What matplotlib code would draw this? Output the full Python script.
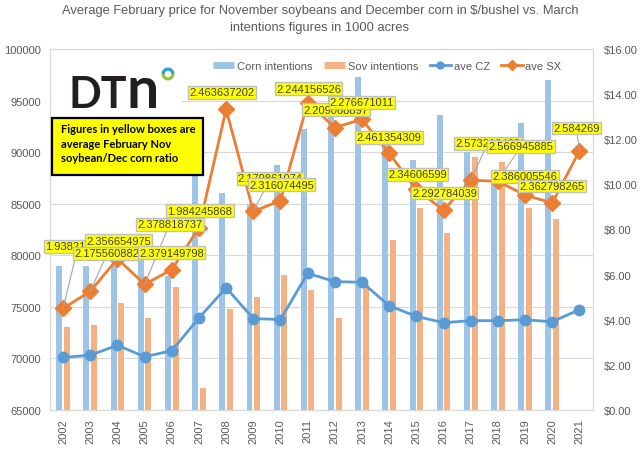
import matplotlib
matplotlib.use("Agg")
import matplotlib.pyplot as plt
import numpy as np
from matplotlib.lines import Line2D
from matplotlib.patches import Rectangle, Wedge
from matplotlib.transforms import IdentityTransform

# data
years = [str(y) for y in range(2002, 2022)]
corn_intentions = [79000, 79000, 79000, 81400, 78000, 90500, 86000, 85000, 88800, 92200,
                   95900, 97300, 91700, 89200, 93600, 90000, 88000, 92800, 97000, np.nan]
soy_intentions = [73000, 73200, 75400, 73900, 76900, 67100, 74800, 76000, 78100, 76600,
                  73900, 77100, 81500, 84600, 82200, 89500, 89000, 84600, 83500, np.nan]
ave_cz = [2.33, 2.43, 2.87, 2.36, 2.63, 4.08, 5.42, 4.05, 4.01, 6.06,
          5.69, 5.66, 4.62, 4.15, 3.87, 3.96, 3.96, 4.00, 3.91, 4.45]
ave_sx = [4.50, 5.26, 6.70, 5.57, 6.22, 8.08, 13.33, 8.80, 9.28, 13.62,
          12.52, 12.88, 11.37, 9.78, 8.86, 10.18, 10.14, 9.52, 9.18, 11.48]
ratio_labels = ["1.938210365", "2.175560882", "2.356654975", "2.378818737", "2.379149798",
                "1.984245868", "2.463637202", "2.179861074", "2.316074495", "2.244156526",
                "2.209068897", "2.276671011", "2.461354309", "2.34606599", "2.292784039",
                "2.573212468", "2.566945885", "2.386005546", "2.362798265", "2.584269"]

# label offsets from the point in pixels (dx right, dy up), and leader-line flags
label_dx = [15, 17, 1, 25, 0, 1, -4, 17, 1, 1, 1, 0, 0, 1, 1, 17, 23, 0, 0, -3]
label_dy = [62, 38, 18, 60, 17, 17, 17, 33, 16, 14, 18, 17, 16, 15, 17, 37, 35, 19, 17, 23]
leader = [1, 1, 0, 1, 0, 0, 0, 1, 0, 0, 0, 0, 0, 0, 0, 1, 1, 0, 0, 1]

CORN_BAR = "#9DC3E6"
SOY_BAR = "#F4B183"
CZ_LINE = "#5B9BD5"
SX_LINE = "#ED7D31"
GRID = "#D9D9D9"
TXT = "#595959"

plt.rcParams['font.family'] = ['Liberation Sans', 'DejaVu Sans']

W, H = 640, 460
fig = plt.figure(figsize=(6.4, 4.6), dpi=100)
l, r, t, b = 49.5, 593, 50, 411
ax = fig.add_axes([l / W, 1 - b / H, (r - l) / W, (b - t) / H])
ax2 = ax.twinx()

x = np.arange(len(years))
ax.bar(x - 0.14, corn_intentions, width=0.22, color=CORN_BAR, zorder=2)
ax.bar(x + 0.14, soy_intentions, width=0.22, color=SOY_BAR, zorder=2)
ax.set_ylim(65000, 100000)
ax.set_yticks(np.arange(65000, 100001, 5000))
ax.set_xlim(-0.5, len(years) - 0.5)
ax.set_xticks(x)
ax.set_xticklabels(years, rotation=90)
ax.grid(axis='y', color=GRID, lw=0.8, zorder=0)
ax.set_axisbelow(True)

ax2.plot(x, ave_cz, color=CZ_LINE, lw=2, marker='o', ms=7.5, zorder=3)
ax2.plot(x, ave_sx, color=SX_LINE, lw=2, marker='D', ms=8, zorder=4)
ax2.set_ylim(0, 16)
ax2.set_yticks(np.arange(0, 16.1, 2))
ax2.set_yticklabels(["$%.2f" % v for v in np.arange(0, 16.1, 2)])

for a in (ax, ax2):
    for s in a.spines.values():
        s.set_color(GRID)
        s.set_linewidth(0.8)
    a.tick_params(length=0, labelsize=8, colors=TXT)
ax.tick_params(axis='y', pad=6)
ax.tick_params(axis='x', pad=6)
ax2.tick_params(axis='y', pad=8)

for i in range(len(years)):
    ap = None
    if leader[i]:
        ap = dict(arrowstyle='-', color='#A6A6A6', lw=0.8, shrinkA=0, shrinkB=0)
    ax2.annotate(ratio_labels[i], (x[i], ave_sx[i]), xytext=(label_dx[i], label_dy[i]),
                 textcoords='offset pixels', ha='center', va='center', fontsize=8,
                 color='#404040', zorder=10 + i, arrowprops=ap,
                 bbox=dict(boxstyle='square,pad=0.12', fc='#FFFF00', ec='#BFBFBF', lw=1))

handles = [Line2D([], [], color=CORN_BAR, lw=5, solid_capstyle='butt'),
           Line2D([], [], color=SOY_BAR, lw=5, solid_capstyle='butt'),
           Line2D([], [], color=CZ_LINE, lw=2, marker='o', ms=5),
           Line2D([], [], color=SX_LINE, lw=2, marker='D', ms=5)]
leg = ax2.legend(handles, ["Corn intentions", "Sov intentions", "ave CZ", "ave SX"],
                 ncol=4, frameon=False, fontsize=8, handlelength=1.9, handletextpad=0.25,
                 columnspacing=1.05, loc='center', bbox_to_anchor=(387 / W, 1 - 67 / H),
                 bbox_transform=fig.transFigure)
for txt in leg.get_texts():
    txt.set_color(TXT)

fig.text(0.5, 1 - 11 / H, "Average February price for November soybeans and December corn in $/bushel vs. March",
         ha='center', va='center', fontsize=9.3, color=TXT)
fig.text(0.5, 1 - 28.5 / H, "intentions figures in 1000 acres",
         ha='center', va='center', fontsize=9.3, color=TXT)

# DTN logo on a white patch
px = IdentityTransform()
fig.add_artist(Rectangle((52, H - 113), 130, 47, transform=px, fc='white', ec='none', zorder=5))
fig.text(69 / W, 1 - 108 / H, "DT", ha='left', va='baseline', fontsize=31, fontweight='bold',
         color='#231F20', family=['Lato', 'DejaVu Sans'], zorder=6)
fig.text(127 / W, 1 - 108 / H, "n", ha='left', va='baseline', fontsize=41, fontweight='bold',
         color='#231F20', family=['Lato', 'DejaVu Sans'], zorder=6)
fig.add_artist(Wedge((168, H - 75), 6.5, 0, 180, width=3.2, transform=px, fc='#2A9FD6', ec='none', zorder=6))
fig.add_artist(Wedge((168, H - 75), 6.5, 180, 360, width=3.2, transform=px, fc='#8DC63F', ec='none', zorder=6))

# yellow note box
fig.add_artist(Rectangle((52, H - 176), 151, 57, transform=px, fc='#FFFF00', ec='black', lw=1.6, zorder=7))
note = ["Figures in yellow boxes are", "average February Nov", "soybean/Dec corn ratio"]
for k, line in enumerate(note):
    fig.text(61 / W, 1 - (130 + 14.5 * k) / H, line, ha='left', va='center', fontsize=8,
             fontweight='bold', color='black', family=['Lato', 'DejaVu Sans'], zorder=8)

fig.savefig("out.png", dpi=100)
